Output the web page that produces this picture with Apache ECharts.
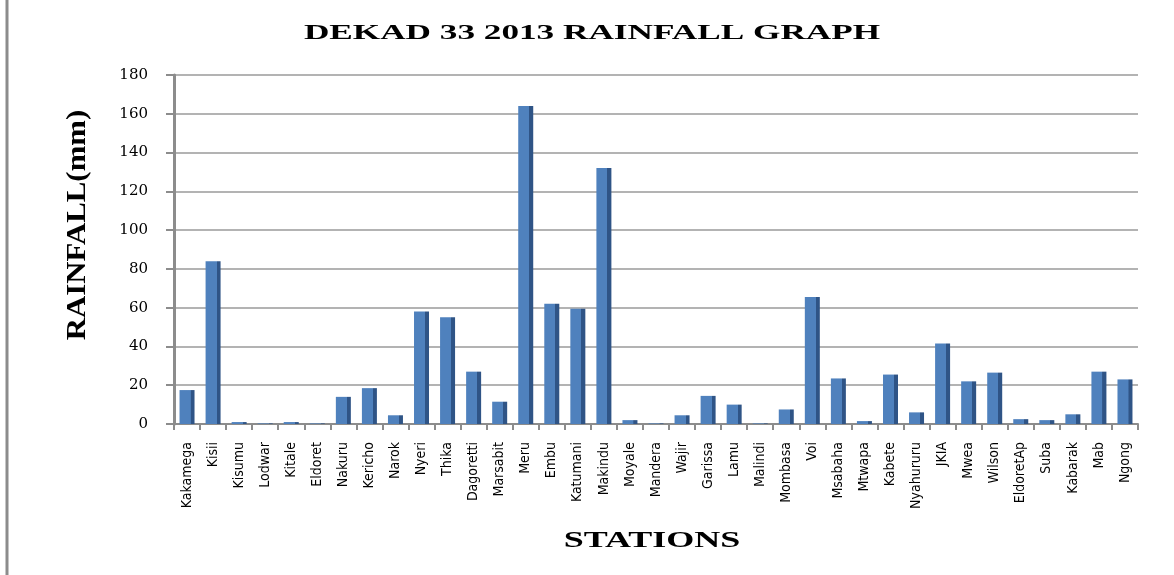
<!DOCTYPE html>
<html><head><meta charset="utf-8">
<script src="https://cdn.jsdelivr.net/npm/echarts@6/dist/echarts.min.js"></script>
<style>html,body{margin:0;padding:0;background:#fff}#c{width:1174px;height:575px}</style>
</head><body><div id="c"></div>
<script>
const stations = ["Kakamega","Kisii","Kisumu","Lodwar","Kitale","Eldoret","Nakuru","Kericho","Narok","Nyeri","Thika","Dagoretti","Marsabit","Meru","Embu","Katumani","Makindu","Moyale","Mandera","Wajir","Garissa","Lamu","Malindi","Mombasa","Voi","Msabaha","Mtwapa","Kabete","Nyahururu","JKIA","Mwea","Wilson","EldoretAp","Suba","Kabarak","Mab","Ngong"];
const rainfall = [17.5,84,1,0.3,1,0.3,14,18.5,4.5,58,55,27,11.5,164,62,59.5,132,2,0.3,4.5,14.5,10,0.3,7.5,65.5,23.5,1.5,25.5,6,41.5,22,26.5,2.5,2,5,27,23];
const yTicks = [0,20,40,60,80,100,120,140,160,180];
const titleText = 'DEKAD 33 2013 RAINFALL GRAPH';
const xName = 'STATIONS';
const yName = 'RAINFALL(mm)';

const chart = echarts.init(document.getElementById('c'));
chart.setOption({
  animation:false,
  backgroundColor:'#fff',
  grid:{left:174,right:36,top:75,bottom:151},
  xAxis:{type:'category',data:stations,
    axisLine:{lineStyle:{color:'#8c8c8c',width:2}},
    axisTick:{show:true,interval:0,length:6,lineStyle:{color:'#8c8c8c',width:2}},
    axisLabel:{interval:0,rotate:90,fontFamily:'"DejaVu Sans Condensed","Liberation Sans Narrow",sans-serif',fontSize:14,color:'#000',margin:18}},
  yAxis:{type:'value',min:0,max:180,interval:20,
    axisLine:{show:true,lineStyle:{color:'#8c8c8c',width:3}},
    axisTick:{show:true,length:8,lineStyle:{color:'#8c8c8c',width:2}},
    axisLabel:{fontFamily:'DejaVu Serif',fontSize:15,color:'#000',margin:26,
      formatter:v=>yTicks.includes(v)?String(v):''},
    splitLine:{lineStyle:{color:'#b3b3b3',width:2}}},
  series:[{type:'bar',data:rainfall,barWidth:15,
    itemStyle:{color:new echarts.graphic.LinearGradient(0,0,1,0,[
      {offset:0,color:'#4f81bd'},{offset:0.73,color:'#4f81bd'},
      {offset:0.74,color:'#2f5486'},{offset:1,color:'#2f5486'}])}}],
  graphic:[
    {type:'line',shape:{x1:7,y1:0,x2:7,y2:575},style:{stroke:'#8c8c8c',lineWidth:3}},
    {type:'text',x:592,y:33,scaleX:1.6,style:{text:titleText,font:'bold 22px "Liberation Serif"',fill:'#000',align:'center',verticalAlign:'middle'}},
    {type:'text',x:652,y:541,scaleX:1.5,style:{text:xName,font:'bold 24px "Liberation Serif"',fill:'#000',align:'center',verticalAlign:'middle'}},
    {type:'text',x:78,y:225,rotation:Math.PI/2,scaleX:1.1,style:{text:yName,font:'bold 28px "Liberation Serif"',fill:'#000',align:'center',verticalAlign:'middle'}}
  ]
});
</script></body></html>
